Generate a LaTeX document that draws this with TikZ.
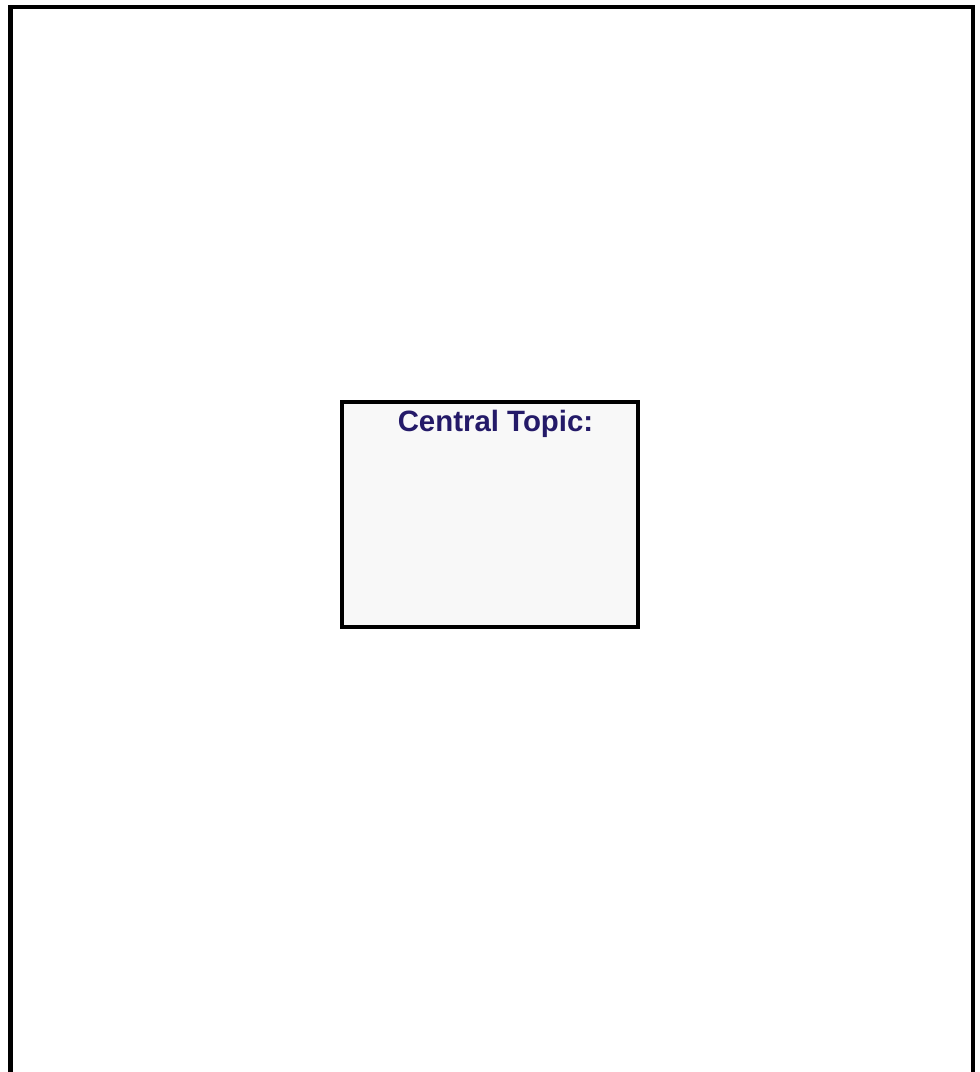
\documentclass[tikz,border=0pt]{standalone}
\usepackage{fontspec}
\setmainfont{Liberation Sans}
\definecolor{topicblue}{RGB}{36,26,104}
\definecolor{topicfill}{RGB}{248,248,248}
\begin{document}
\begin{tikzpicture}[x=1pt,y=-1pt,every node/.style={inner sep=0pt, outer sep=0pt}]
\useasboundingbox (0,0) rectangle (980,1072);
\clip (0,0) rectangle (980,1072);
% outer frame, open at the bottom
\draw[line width=4.2pt] (10.5,1080) -- (10.5,7) -- (972.7,7) -- (972.7,1080);
% central box
\node[draw, line width=4.2pt, fill=topicfill, minimum width=296pt, minimum height=225pt, anchor=north west] (topicbox) at (342,402) {};
\node[anchor=base, text=topicblue, font=\bfseries\fontsize{29.4}{33}\selectfont] (topiclabel) at (495.5,431) {Central Topic:};
\end{tikzpicture}
\end{document}
